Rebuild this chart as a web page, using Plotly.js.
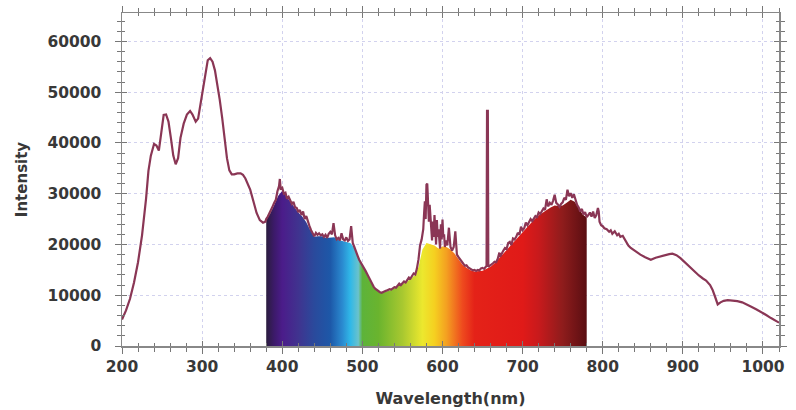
<!DOCTYPE html>
<html>
<head>
<meta charset="utf-8">
<script src="https://cdn.plot.ly/plotly-3.0.1.min.js"></script>
<style>html,body{margin:0;padding:0;background:#fff;}#chart{width:796px;height:410px;}</style>
</head>
<body>
<div id="chart"></div>
<script>
// Measured spectrum (wavelength nm, intensity)
const wavelength = [
200,205,210,215,220,225,230,233,236,240,243,246,249,252,255,258,261,264,267,270,273,277,281,285,288,292,295,298,301,304,307,310,313,316,319,322,325,328,331,334,337,340,344,348,351,354,357,360,364,368,372,376,379,
380,382,384,386,388,390,392,394,396,397,398,400,402,404,406,408,410,412,414,416,418,420,422,424,426,428,430,432,434,436,438,440,442,444,446,448,450,452,454,456,458,460,462,464,466,468,470,472,474,476,478,480,482,484,486,488,490,492,494,496,498,
500,502,504,506,508,510,512,514,516,518,520,522,524,526,528,530,532,534,536,538,540,542,544,546,548,550,552,554,556,558,560,562,564,566,568,570,572,574,576,577,578,579,580,581,582,583,584,585,586,587,588,589,590,591,592,593,594,595,596,597,598,599,
600,601,602,603,604,606,608,609,610,612,614,616,617,618,620,622,624,626,628,630,632,634,636,638,640,642,644,646,648,650,652,654,655,655.6,656.6,657.2,659,661,663,665,667,669,671,672,674,676,678,680,682,684,686,688,690,692,694,696,698,
700,702,704,706,708,710,712,714,716,718,720,722,724,726,728,730,732,734,736,738,740,742,744,746,748,750,752,754,756,758,760,762,764,766,768,770,772,774,776,778,780,782,784,786,788,790,792,794,795,796,798,
800,802,805,808,810,812,815,818,820,822,825,829,832,835,840,847,853,860,866,872,878,883,887,892,897,901,906,910,914,920,925,929,934,937,940,943.5,947,951,956,962,968,974,980,986,992,998,1004,1010,1016,1020
];
const intensity = [
5200,7000,9300,12500,16500,21800,29000,34500,37500,39800,39500,38500,42000,45500,45600,44200,41000,37500,35800,37000,41000,43800,45600,46300,45600,44200,44800,47500,50500,53500,56300,56700,56000,54300,51500,48500,45000,41000,37000,34600,33800,33800,34000,34000,33700,33000,32000,30800,28500,26200,24800,24300,24500,
25000,25500,26300,26800,27500,28200,28800,30500,31500,32900,31000,31200,30000,30200,29000,29400,28600,28000,28400,27300,27200,26400,26800,25800,26500,25000,25600,24300,23600,22800,22000,21600,22300,21900,22200,21800,22000,21500,21900,21300,22100,22500,22000,24200,21800,21000,21300,20800,22200,21000,20800,21400,20700,21000,23600,20300,19500,18800,17800,17000,16500,
16000,15300,14800,14200,13500,12800,12200,11700,11300,11000,10800,10600,10500,10700,10800,10900,11000,11200,11100,11400,11600,11500,12000,12300,12000,12400,12700,12500,13100,13500,13300,13900,14300,14100,15200,17000,19800,21000,23000,26000,28500,25000,31800,32000,27000,24500,27800,25500,22500,20800,24500,21500,25800,22000,20000,24800,21500,23000,20000,19200,24000,21000,
24900,21500,22000,19500,20800,19800,23300,20500,19500,18800,19500,22600,18500,18000,17500,17000,16500,16200,15800,15900,15500,15300,15000,14900,15000,14800,15000,14900,15300,15400,15200,15600,15800,46300,46300,15600,15800,15900,16300,16600,16500,17200,18400,17600,18300,18800,19300,19100,20300,20500,19900,21200,21000,21500,22300,21900,23500,
22800,23200,24300,23800,24500,25000,24600,25200,25600,25400,26300,26000,26600,27100,26800,28900,27500,28200,27800,28600,29800,28200,27900,27400,28000,28300,29200,28800,30800,29500,30100,29200,29900,28600,27800,27300,26500,27000,25900,26400,25400,25800,26300,25500,26500,25200,25800,27200,26500,24500,23800,
23600,23200,23000,22500,22800,22100,22600,21800,22100,21500,21700,20600,19800,19300,18700,18000,17500,17000,17400,17700,17900,18100,18200,17900,17300,16700,15900,15200,14700,13900,13300,12900,12000,11100,9800,8200,8600,8900,9050,9000,8850,8600,8200,7700,7200,6700,6100,5500,5000,4600
];
// Smooth lower envelope under which the visible spectrum is coloured
const fillWavelength = [380,385,390,395,400,405,410,415,420,425,430,435,440,445,450,455,460,465,470,475,480,485,490,495,500,505,510,515,520,525,530,535,540,545,550,555,560,565,570,575,580,585,590,595,600,605,610,615,620,625,630,635,640,645,650,655,660,665,670,675,680,685,690,695,700,705,710,715,720,725,730,735,740,745,750,755,760,765,770,775,780];
const fillIntensity = [24800,26100,27800,29600,30600,29500,28400,27300,26300,25500,24400,22800,21500,21600,21600,21300,21400,21400,20900,20700,20600,20300,19300,17600,16000,14200,12700,11400,10800,10500,10700,11000,11400,11900,12200,12600,13200,13900,15500,19000,20300,20000,19800,19200,19600,19500,19000,18200,17000,16000,15400,14900,14700,14700,14800,15200,15600,16300,17100,18000,18900,19800,20700,21600,22500,23400,24300,25000,25700,26300,26800,27300,27700,27600,27700,28200,28800,28400,27000,25900,25300];
const spectrumStops = [0,0.025,0.05,0.1,0.15,0.2,0.2375,0.2625,0.2875,0.3,0.35,0.425,0.4875,0.525,0.5625,0.6125,0.65,0.8,0.85,0.925,1];
const spectrumColors = ['#2b1d3e','#3c1a6a','#4b1c8a','#40338f','#2a4a9c','#1d58a8','#2a8ad0','#30b8e8','#6ac2cc','#5db33a','#6ab42e','#a8c830','#ece82e','#f5d020','#f4a021','#ee4a1e','#e42218','#e01a18','#c81a1c','#8e1c1c','#5a0e12'];
const xTicks = [200,300,400,500,600,700,800,900,1000];
const yTicks = [0,10000,20000,30000,40000,50000,60000];

const colorscale = spectrumStops.map((s,i)=>[s, spectrumColors[i]]);
const fontFam = '"DejaVu Sans", Verdana, sans-serif';
const tickFont = {family: fontFam, size: 15.5, color: '#383838', weight: 'bold'};

const traces = [
  {x: fillWavelength, y: fillIntensity, type: 'scatter', mode: 'lines', fill: 'tozeroy',
   line: {width: 0, color: 'rgba(0,0,0,0)'},
   fillgradient: {type: 'horizontal', start: 380, stop: 780, colorscale: colorscale},
   hoverinfo: 'skip', showlegend: false},
  {x: wavelength, y: intensity, type: 'scatter', mode: 'lines',
   line: {color: '#8a3655', width: 2.2}, showlegend: false},
  {x: [200], y: [0], xaxis: 'x2', yaxis: 'y2', type: 'scatter', mode: 'markers', marker: {opacity: 0}, hoverinfo: 'skip', showlegend: false}
];

const xr = [200, 1020], yr = [0, 65600];
const layout = {
  width: 796, height: 410,
  margin: {l: 122, r: 17, t: 13, b: 64},
  paper_bgcolor: '#fff', plot_bgcolor: '#fff',
  xaxis: {range: xr, tickvals: xTicks, ticktext: xTicks.map(String), tickfont: tickFont,
    ticks: 'outside', ticklen: 6, tickcolor: '#777', tickwidth: 1,
    minor: {dtick: 20, tick0: 200, ticks: 'outside', ticklen: 4, tickcolor: '#777', showgrid: false},
    showline: true, linecolor: '#888', linewidth: 1.5, mirror: 'ticks',
    showgrid: true, gridcolor: '#d2d2ee', griddash: 'dot', gridwidth: 1, zeroline: false,
    title: {text: 'Wavelength(nm)', font: {family: fontFam, size: 16, color: '#383838', weight: 'bold'}, standoff: 17}},
  yaxis: {range: yr, tickvals: yTicks, ticktext: yTicks.map(String), tickfont: tickFont,
    ticks: 'outside', ticklen: 6, tickcolor: '#777', tickwidth: 1, ticklabelstandoff: 10,
    minor: {dtick: 2000, tick0: 0, ticks: 'outside', ticklen: 4, tickcolor: '#777', showgrid: false},
    showline: true, linecolor: '#888', linewidth: 1.5, mirror: 'ticks',
    showgrid: true, gridcolor: '#d2d2ee', griddash: 'dot', gridwidth: 1, zeroline: false,
    title: {text: 'Intensity', font: {family: fontFam, size: 15, color: '#383838', weight: 'bold'}, standoff: 16}},
  xaxis2: {overlaying: 'x', range: xr, tickvals: xTicks, showticklabels: false, ticks: 'inside', ticklen: 5, tickcolor: '#777',
    minor: {dtick: 20, tick0: 200, ticks: 'inside', ticklen: 3, tickcolor: '#777'},
    showgrid: false, zeroline: false, showline: false, mirror: 'ticks'},
  yaxis2: {overlaying: 'y', range: yr, tickvals: yTicks, showticklabels: false, ticks: 'inside', ticklen: 5, tickcolor: '#777',
    minor: {dtick: 2000, tick0: 0, ticks: 'inside', ticklen: 3, tickcolor: '#777'},
    showgrid: false, zeroline: false, showline: false, mirror: 'ticks'}
};
Plotly.newPlot('chart', traces, layout, {staticPlot: true, displayModeBar: false});
</script>
</body>
</html>
